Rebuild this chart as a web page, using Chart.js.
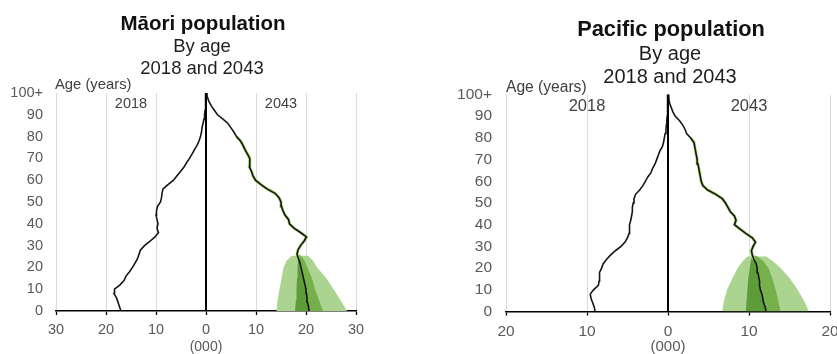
<!DOCTYPE html>
<html>
<head>
<meta charset="utf-8">
<script src="https://cdn.jsdelivr.net/npm/chart.js@4/dist/chart.umd.min.js"></script>
<style>
  html, body { margin: 0; padding: 0; background: #fff; overflow: hidden; width: 837px; height: 354px; }
  .panel { position: absolute; top: 0; }
  canvas { display: block; }
</style>
</head>
<body>
<div class="panel" style="left:0"><canvas id="maori" width="420" height="354"></canvas></div>
<div class="panel" style="left:420px"><canvas id="pacific" width="430" height="354"></canvas></div>
<script>
// Single ages (every second year) at which each population line is plotted
const ages = [0, 2, 4, 6, 8, 10, 12, 14, 16, 18, 20, 22, 24, 26, 28, 30, 32, 34, 36, 38, 40,
              42, 44, 46, 48, 50, 52, 54, 56, 58, 60, 62, 64, 66, 68, 70, 72, 74, 76, 78, 80,
              82, 84, 86, 88, 90, 92, 94, 96, 98, 100];

// Population in thousands
const maori2018 = [17.0, 17.3, 17.6, 17.9, 18.4, 18.3, 17.2, 16.4, 16.0, 15.3, 14.7, 14.2, 13.7, 13.4, 13.1, 12.3, 11.2, 10.2, 9.5, 9.8, 9.6,
                   9.8, 10.0, 9.9, 9.7, 9.1, 8.9, 8.8, 8.6, 7.6, 6.5, 5.8, 5.1, 4.4, 3.9, 3.3, 2.8, 2.3, 1.8, 1.4, 1.1,
                   0.9, 0.8, 0.6, 0.4, 0.3, 0.2, 0.1, 0.1, 0.05, 0.1];
const maori2043 = [20.6, 20.5, 20.3, 20.2, 20.1, 20.0, 19.8, 19.6, 19.4, 19.2, 19.0, 18.8, 18.5, 18.2, 18.4, 18.9, 19.6, 20.1, 18.9, 17.6, 16.7,
                   16.5, 15.8, 15.4, 15.1, 15.0, 14.6, 13.8, 12.2, 11.0, 9.9, 9.4, 9.1, 8.7, 8.8, 8.7, 8.3, 7.8, 7.4, 6.9, 6.1,
                   5.6, 5.0, 4.4, 3.4, 2.3, 1.7, 1.1, 0.6, 0.3, 0.2];
const pacific2018 = [9.0, 9.1, 9.3, 9.5, 9.6, 9.2, 8.6, 8.5, 8.5, 8.4, 8.2, 8.0, 7.6, 7.1, 6.5, 5.8, 5.3, 5.0, 4.8, 4.8, 4.7,
                     4.6, 4.5, 4.4, 4.4, 4.3, 4.2, 4.0, 3.5, 3.1, 2.8, 2.5, 2.1, 1.9, 1.6, 1.4, 1.2, 1.0, 0.7, 0.55, 0.45,
                     0.35, 0.25, 0.2, 0.15, 0.1, 0.08, 0.05, 0.05, 0.05, 0.05];
const pacific2043 = [12.1, 12.0, 11.8, 11.7, 11.6, 11.4, 11.3, 11.3, 11.2, 11.1, 11.0, 10.9, 10.6, 10.4, 10.3, 10.5, 10.8, 10.4, 9.6, 8.9, 8.2,
                     8.4, 8.2, 7.7, 7.4, 7.1, 6.7, 5.9, 4.9, 4.3, 4.1, 4.0, 3.9, 3.8, 3.7, 3.6, 3.5, 3.4, 3.3, 3.2, 2.8,
                     2.3, 2.1, 1.8, 1.4, 0.9, 0.6, 0.4, 0.2, 0.1, 0.1];

// Projection uncertainty for people born after 2018 (thousands)
const fanAges = [0, 5, 10, 15, 20, 23, 25.5];
const maoriLow90   = [14.1, 14.3, 14.7, 15.1, 15.5, 16.1, 17.2];
const maoriHigh90  = [28.2, 26.9, 25.5, 24.1, 22.2, 21.4, 20.4];
const maoriLow50   = [17.8, 18.0, 18.1, 18.2, 18.3, 18.4, 18.4];
const maoriHigh50  = [23.4, 22.6, 21.8, 21.2, 20.3, 19.7, 19.0];
const pacificLow90  = [6.7, 6.9, 7.3, 7.9, 8.6, 9.2, 9.8];
const pacificHigh90 = [17.4, 16.8, 16.0, 15.1, 13.9, 13.0, 12.1];
const pacificLow50  = [9.6, 9.7, 9.8, 9.9, 10.1, 10.2, 10.4];
const pacificHigh50 = [13.9, 13.6, 13.3, 12.9, 12.4, 11.8, 11.0];

// Axis tick labels
const ageTickLabels = ['0', '10', '20', '30', '40', '50', '60', '70', '80', '90', '100+'];

const FAMILY = "'Liberation Sans', Arial, Helvetica, sans-serif";
Chart.defaults.font.family = FAMILY;

// Draws headings and in-plot captions as canvas text
const captionPlugin = {
  id: 'captions',
  afterDraw(chart, args, opts) {
    const { ctx, scales } = chart;
    ctx.save();
    opts.items.forEach(it => {
      ctx.font = it.font;
      ctx.fillStyle = it.color;
      ctx.textAlign = it.align || 'center';
      ctx.textBaseline = 'middle';
      const x = it.xv !== undefined ? scales.x.getPixelForValue(it.xv) : it.x;
      ctx.fillText(it.text, x, it.y);
    });
    ctx.restore();
  }
};

function pyramid(id, o) {
  const line = (vals, sign) => ages.map((a, i) => ({ x: sign * vals[i], y: a }));
  const band = vals => fanAges.map((a, i) => ({ x: vals[i], y: a }));
  const future = line(o.future, 1);
  const noLine = { borderColor: 'transparent', borderWidth: 0 };

  return new Chart(document.getElementById(id), {
    type: 'line',
    data: {
      datasets: [
        { label: 'axis', data: [{ x: 0, y: 0 }, { x: 0, y: 100.5 }], borderColor: '#000', borderWidth: 2, order: 0 },
        { label: '2018', data: line(o.base, -1), borderColor: '#151515', borderWidth: 1.6, order: 1 },
        { label: '2043', data: future, borderColor: '#151515', borderWidth: 1.6, order: 2 },
        { label: '2043 range', data: future.filter(p => p.y >= 24 && p.y <= 80), borderColor: '#a9d874', borderWidth: 3, order: 3 },
        Object.assign({ label: '25th-50th', data: band(o.low50), fill: 2, backgroundColor: '#5e9c3a', order: 4 }, noLine),
        Object.assign({ label: '50th-75th', data: band(o.high50), fill: 2, backgroundColor: '#75b04b', order: 5 }, noLine),
        Object.assign({ label: '95th', data: band(o.high90), order: 6 }, noLine),
        Object.assign({ label: '5th-95th', data: band(o.low90), fill: '-1', backgroundColor: '#abd490', order: 7 }, noLine)
      ]
    },
    options: {
      indexAxis: 'y',
      responsive: false,
      animation: false,
      events: [],
      elements: { point: { radius: 0 }, line: { tension: 0 } },
      layout: { padding: o.padding },
      scales: {
        x: {
          type: 'linear', min: -o.range, max: o.range,
          ticks: { stepSize: 10, callback: v => String(Math.abs(v)), color: '#595959',
                   font: { size: o.tickSize }, padding: o.xTickPad, maxRotation: 0 },
          grid: { color: '#d9d9d9', lineWidth: 1, tickColor: '#000', tickLength: 4, tickWidth: 1.3 },
          border: { color: '#000', width: 1.6 },
          title: { display: true, text: '(000)', color: '#595959',
                   font: { size: o.tickSize - 0.5, lineHeight: 1 }, padding: { top: 0, bottom: 0 } },
          afterFit: s => { s.height = o.xHeight; }
        },
        y: {
          type: 'linear', min: 0, max: 100,
          ticks: { stepSize: 10, callback: (v, i) => ageTickLabels[i], color: '#595959',
                   font: { size: o.tickSize }, padding: o.yTickPad },
          grid: { display: false, drawTicks: false },
          border: { display: false },
          afterFit: s => { s.width = o.yWidth; }
        }
      },
      plugins: {
        legend: { display: false },
        tooltip: { enabled: false },
        captions: { items: o.captions }
      }
    },
    plugins: [captionPlugin]
  });
}

pyramid('maori', {
  base: maori2018, future: maori2043,
  low90: maoriLow90, high90: maoriHigh90, low50: maoriLow50, high50: maoriHigh50,
  range: 30, tickSize: 14.5, xTickPad: 6, yTickPad: 13,
  padding: { left: 10, right: 64, top: 93, bottom: 0 },
  xHeight: 43, yWidth: 46,
  captions: [
    { text: 'Māori population', x: 203, y: 24.5, font: `bold 20.5px ${FAMILY}`, color: '#111' },
    { text: 'By age', x: 202, y: 46.5, font: `18.5px ${FAMILY}`, color: '#1e1e1e' },
    { text: '2018 and 2043', x: 202, y: 68.5, font: `18.5px ${FAMILY}`, color: '#1e1e1e' },
    { text: 'Age (years)', x: 55, y: 85, align: 'left', font: `14.8px ${FAMILY}`, color: '#404040' },
    { text: '2018', xv: -15, y: 104, font: `14.5px ${FAMILY}`, color: '#404040' },
    { text: '2043', xv: 15, y: 104, font: `14.5px ${FAMILY}`, color: '#404040' }
  ]
});

pyramid('pacific', {
  base: pacific2018, future: pacific2043,
  low90: pacificLow90, high90: pacificHigh90, low50: pacificLow50, high50: pacificHigh50,
  range: 20, tickSize: 15.5, xTickPad: 7, yTickPad: 14,
  padding: { left: 36, right: 20, top: 94.5, bottom: 0 },
  xHeight: 42.5, yWidth: 50,
  captions: [
    { text: 'Pacific population', x: 251, y: 30, font: `bold 21.8px ${FAMILY}`, color: '#111' },
    { text: 'By age', x: 250, y: 54, font: `20px ${FAMILY}`, color: '#1e1e1e' },
    { text: '2018 and 2043', x: 250, y: 77, font: `20px ${FAMILY}`, color: '#1e1e1e' },
    { text: 'Age (years)', x: 86, y: 88, align: 'left', font: `15.6px ${FAMILY}`, color: '#404040' },
    { text: '2018', xv: -10, y: 106, font: `16.5px ${FAMILY}`, color: '#404040' },
    { text: '2043', xv: 10, y: 106, font: `16.5px ${FAMILY}`, color: '#404040' }
  ]
});
</script>
</body>
</html>
